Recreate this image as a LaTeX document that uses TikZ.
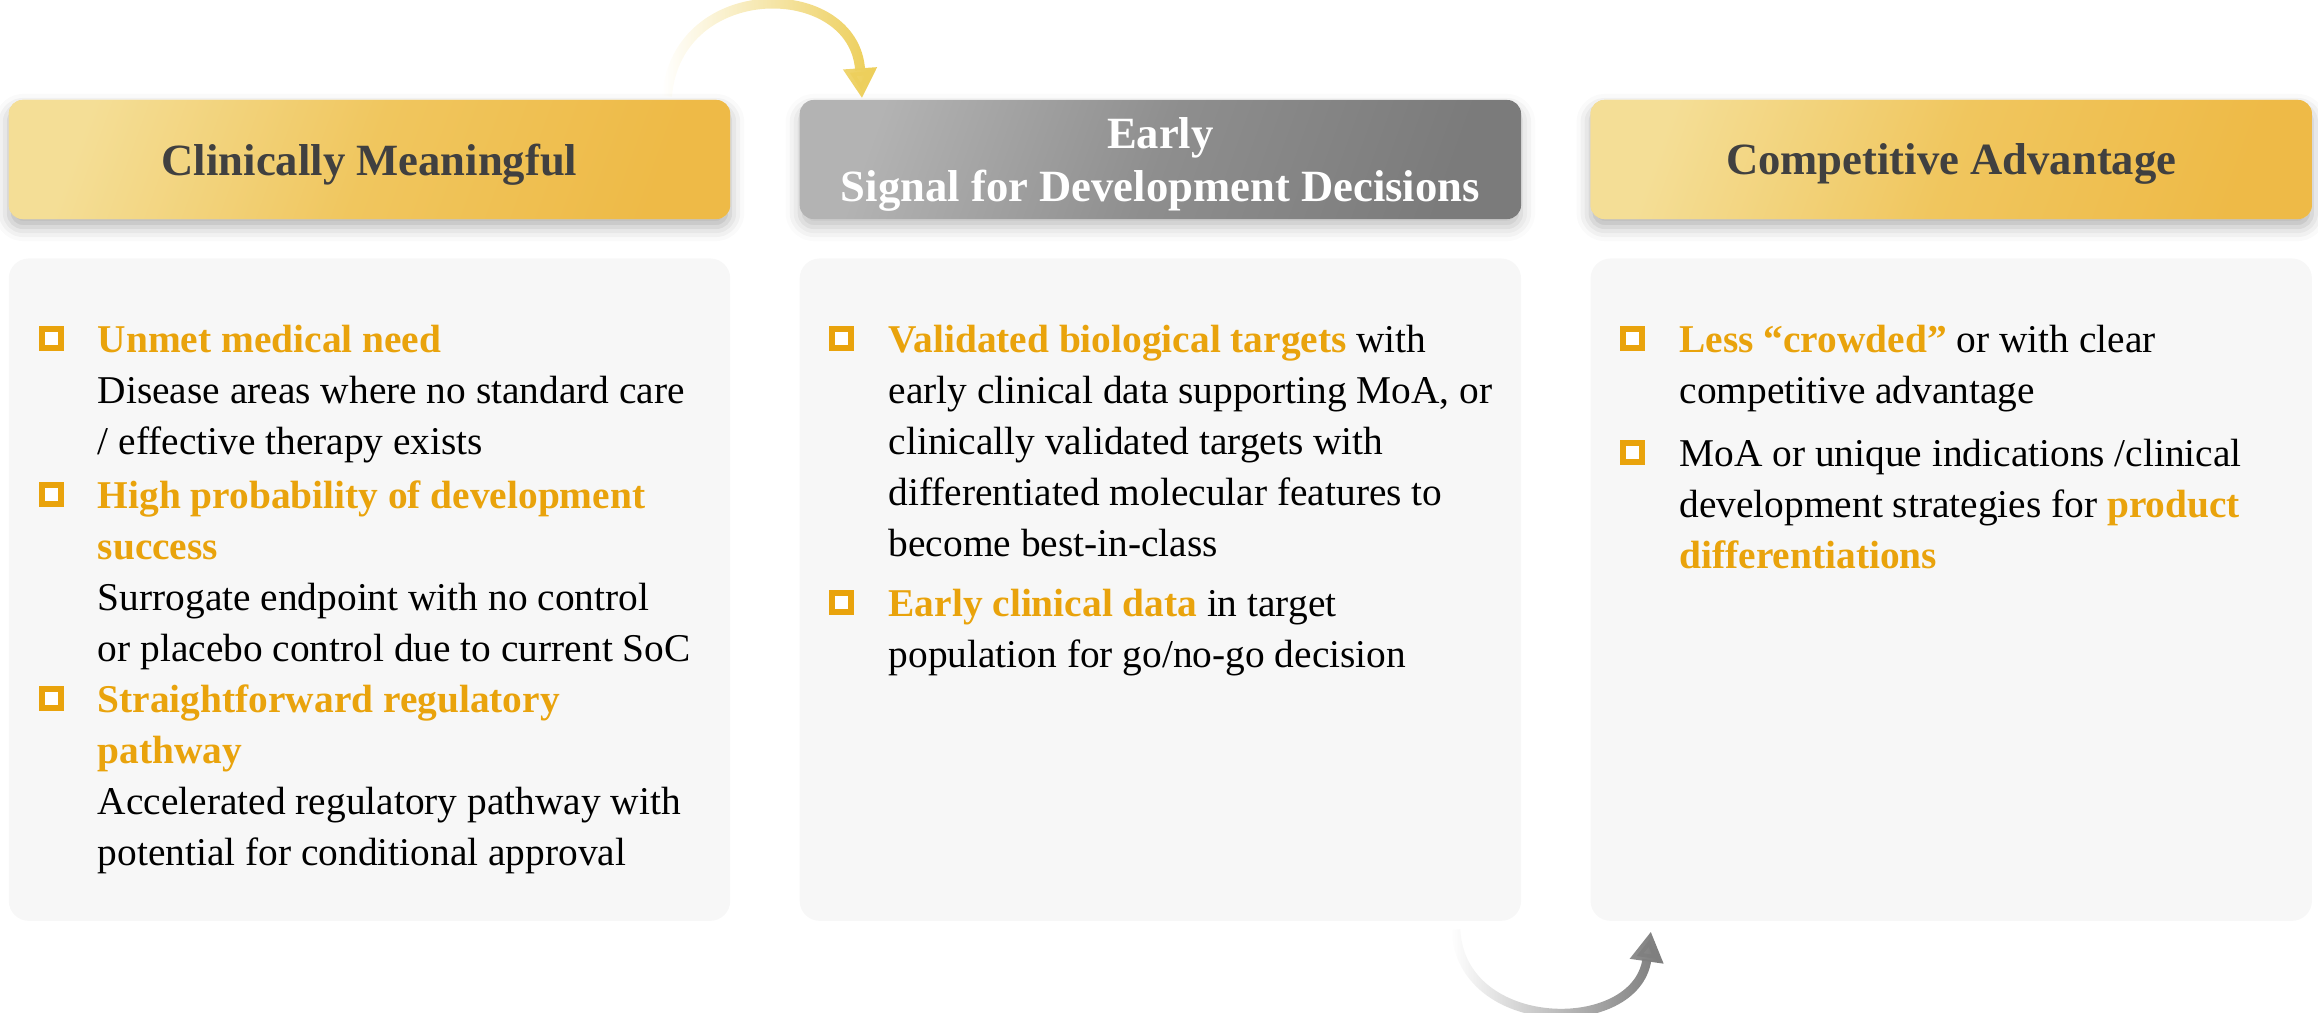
\documentclass[tikz,border=0pt]{standalone}
\usepackage{fontspec}
\setmainfont{Liberation Serif}
\usetikzlibrary{positioning,calc,arrows.meta,fadings,shadows.blur}

\definecolor{hlcol}{HTML}{E9A30C}
\definecolor{hdink}{HTML}{404040}
\definecolor{bodyfill}{HTML}{F7F7F7}
\definecolor{yelA}{HTML}{F4DE96}
\definecolor{yelM}{HTML}{F0C65E}
\definecolor{yelB}{HTML}{EEBA47}
\definecolor{yelShadow}{HTML}{F2D488}
\definecolor{grayA}{HTML}{B3B3B3}
\definecolor{grayM}{HTML}{8E8E8E}
\definecolor{grayB}{HTML}{7B7B7B}
\definecolor{arrYel}{HTML}{EDCF5C}
\definecolor{arrGray}{HTML}{7F7F7F}

\newcommand{\orng}[1]{\textcolor{hlcol}{\textbf{#1}}}

\tikzfading[name=fadeleft, left color=transparent!100, right color=transparent!0]

\tikzset{
	headbox/.style={rounded corners=0.14cm, minimum width=7.21cm, minimum height=1.19cm, align=center,
		text depth=0pt, font=\bfseries\fontsize{12.7}{14.8}\selectfont},
	yelhead/.style={headbox, top color=yelA, bottom color=yelB, middle color=yelM, shading angle=70, text=hdink,
		blur shadow={shadow xshift=0cm, shadow yshift=-0.08cm, shadow blur radius=0.14cm, shadow opacity=30, fill=yelShadow}},
	grayhead/.style={headbox, top color=grayA, bottom color=grayB, middle color=grayM, shading angle=70, text=white,
		blur shadow={shadow xshift=0cm, shadow yshift=-0.08cm, shadow blur radius=0.14cm, shadow opacity=25}},
	bodybox/.style={rounded corners=0.2cm, fill=bodyfill, minimum width=7.21cm, minimum height=6.62cm},
	sq/.style={draw=hlcol, fill=white, line width=0.06cm, minimum size=0.19cm, inner sep=0pt},
	itm/.style={anchor=north west, align=left, inner sep=0pt, font=\fontsize{11.2}{14.5}\selectfont},
	curvearrow/.style={line width=0.1cm, path fading=fadeleft, -{Triangle[length=0.3cm,width=0.32cm]}}
}

\begin{document}
\begin{tikzpicture}[x=0.01cm, y=-0.01cm]
	\useasboundingbox (0,0) rectangle (2318,1012);
	%
	\node[yelhead] (hd1) at (369.5,159.5) {Clinically Meaningful};
	\node[grayhead, right=0.68cm of hd1] (hd2) {Early\\Signal for Development Decisions};
	\node[yelhead, right=0.68cm of hd2] (hd3) {Competitive Advantage};
	%
	\node[bodybox, below=0.38cm of hd1] (bd1) {};
	\node[bodybox, below=0.38cm of hd2] (bd2) {};
	\node[bodybox, below=0.38cm of hd3] (bd3) {};
	%
	% first baseline sits 13 below the square, a strut is 36 high
	\node[sq] (q11) at ($(bd1.north west)+(43,81)$) {};
	\node[itm] (t11) at ($(q11)+(46,-23)$) {\strut\orng{Unmet medical need}\\Disease areas where no standard care\\/ effective therapy exists};
	\node[sq] (q12) at ($(bd1.north west)+(43,237)$) {};
	\node[itm] (t12) at ($(q12)+(46,-23)$) {\strut\orng{High probability of development}\\\orng{success}\\Surrogate endpoint with no control\\or placebo control due to current SoC};
	\node[sq] (q13) at ($(bd1.north west)+(43,441)$) {};
	\node[itm] (t13) at ($(q13)+(46,-23)$) {\strut\orng{Straightforward regulatory}\\\orng{pathway}\\Accelerated regulatory pathway with\\potential for conditional approval};
	%
	\node[sq] (q21) at ($(bd2.north west)+(43,81)$) {};
	\node[itm] (t21) at ($(q21)+(46,-23)$) {\strut\orng{Validated biological targets} with\\early clinical data supporting MoA, or\\clinically validated targets with\\differentiated molecular features to\\become best-in-class};
	\node[sq] (q22) at ($(bd2.north west)+(43,345)$) {};
	\node[itm] (t22) at ($(q22)+(46,-23)$) {\strut\orng{Early clinical data} in target\\population for go/no-go decision};
	%
	\node[sq] (q31) at ($(bd3.north west)+(43,81)$) {};
	\node[itm] (t31) at ($(q31)+(46,-23)$) {\strut\orng{Less “crowded”} or with clear\\competitive advantage};
	\node[sq] (q32) at ($(bd3.north west)+(43,195)$) {};
	\node[itm] (t32) at ($(q32)+(46,-23)$) {\strut MoA or unique indications /clinical\\development strategies for \orng{product}\\\orng{differentiations}};
	%
	\coordinate (s1) at ($(hd1.north east)+(-64,-3)$);
	\coordinate (e1) at ($(hd2.north west)+(63,-1)$);
	\draw[curvearrow, arrYel] (s1) .. controls +(10,-120) and +(-8,-120) .. (e1);
	\coordinate (s2) at ($(bd2.south east)+(-66,8)$);
	\coordinate (e2) at ($(bd3.south west)+(61,10)$);
	\draw[curvearrow, arrGray, line width=0.09cm] (s2) .. controls +(5,105) and +(-15,105) .. (e2);
\end{tikzpicture}
\end{document}
